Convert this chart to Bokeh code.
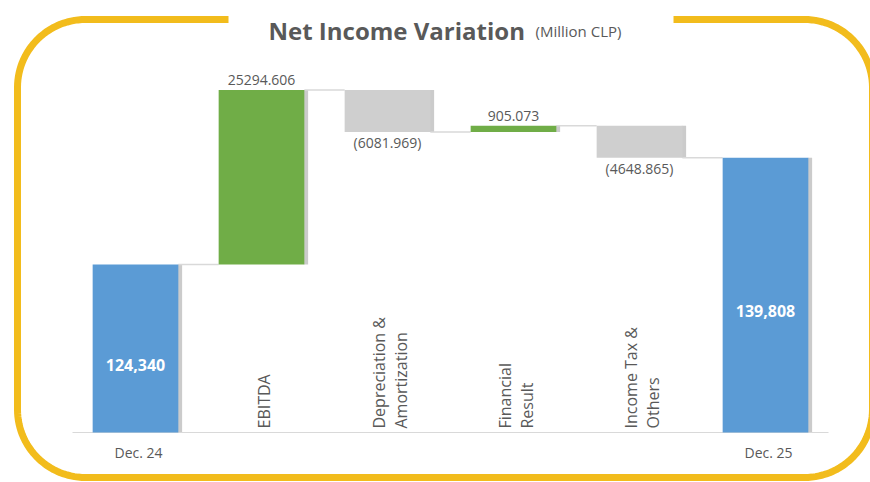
import numpy as np
from bokeh.plotting import figure
from bokeh.models import Range1d
from bokeh.core.properties import value
from bokeh.embed import file_html
from bokeh.resources import INLINE

# ---------------- data ----------------
categories = ["Dec. 24", "EBITDA", "Depreciation & Amortization",
              "Financial Result", "Income Tax & Others", "Dec. 25"]
category_lines = [["Dec. 24"], ["EBITDA"], ["Depreciation &", "Amortization"],
                  ["Financial", "Result"], ["Income Tax &", "Others"], ["Dec. 25"]]
start_total = 124340
changes = [25294.606, -6081.969, 905.073, -4648.865]
end_total = 139808
axis_base = 100000
title_main = "Net Income Variation"
title_unit = "(Million CLP)"

# ---------------- styles ----------------
BLUE = "#5B9BD5"
GREEN = "#70AD47"
GREY = "#CFCFCF"
TEXT = "#595959"
FRAME = "#F2BC1C"
FONT = value("Open Sans")
BAR_W = 0.68
W, H = 870, 482

# ---------------- derived ----------------
levels = start_total + np.cumsum(changes)
prev = np.concatenate([[start_total], levels[:-1]])
chg_x = np.arange(1, 1 + len(changes))
chg_bottom = np.minimum(prev, levels)
chg_top = np.maximum(prev, levels)
chg_color = [GREEN if c > 0 else GREY for c in changes]

tot_x = np.array([0, len(categories) - 1])
tot_vals = np.array([start_total, end_total])

p = figure(width=W, height=H, output_backend="svg", toolbar_location=None,
           x_axis_type=None, y_axis_type=None, min_border=0,
           x_range=Range1d(-135 / 126, (W - 135) / 126),
           y_range=Range1d(axis_base - 50 * 144.93, axis_base + 432 * 144.93))
p.outline_line_color = None
p.background_fill_color = "white"
p.border_fill_color = "white"
p.extra_x_ranges = {"px": Range1d(0, W)}
p.extra_y_ranges = {"px": Range1d(H, 0)}

# shadows
sh_x = np.concatenate([tot_x, chg_x])
sh_b = np.concatenate([np.full(2, axis_base), chg_bottom])
sh_t = np.concatenate([tot_vals, chg_top])
p.quad(left=sh_x + BAR_W / 2 - 0.004, right=sh_x + BAR_W / 2 + 0.03,
       bottom=sh_b, top=sh_t, fill_color="#8c8c8c", fill_alpha=0.45, line_color=None)

# axis line
p.segment(x0=[-0.5], x1=[len(categories) - 0.5], y0=[axis_base], y1=[axis_base],
          line_color="#D9D9D9", line_width=1.2)

# connectors
con_x = np.arange(0, len(categories) - 1)
con_y = np.concatenate([[start_total], levels])
p.segment(x0=con_x + BAR_W / 2, x1=con_x + 1 - BAR_W / 2, y0=con_y, y1=con_y,
          line_color="#D9D9D9", line_width=1.5)

# total bars
p.vbar(x=tot_x, bottom=axis_base, top=tot_vals, width=BAR_W, fill_color=BLUE, line_color=None)
# change bars
p.vbar(x=chg_x, bottom=chg_bottom, top=chg_top, width=BAR_W, fill_color=chg_color, line_color=None)

# change labels
pos = [c > 0 for c in changes]
lab_txt = [f"{abs(c):.3f}" if c > 0 else f"({abs(c):.3f})" for c in changes]
lab_y = [t if ps else b for t, b, ps in zip(chg_top, chg_bottom, pos)]
lab_off = [-10 if ps else 11 for ps in pos]
p.text(x=chg_x, y=lab_y, text=lab_txt, y_offset=lab_off, text_align="center",
       text_baseline="middle", text_font=FONT, text_font_size="14px", text_color=TEXT)

# total labels
p.text(x=tot_x, y=(axis_base + tot_vals) / 2, text=[f"{v:,.0f}" for v in tot_vals],
       y_offset=16, text_align="center", text_baseline="middle", text_font=FONT,
       text_font_size="16px", text_font_style="bold", text_color="white")

# category labels
hx, ht = [], []
vx, vt, voff = [], [], []
for i, lines in enumerate(category_lines):
    if i in tot_x:
        hx.append(i); ht.append(lines[0])
    else:
        n = len(lines)
        for j, ln in enumerate(lines):
            vx.append(i); vt.append(ln); voff.append(2 + (j - (n - 1) / 2) * 22)
p.text(x=hx, y=axis_base, text=ht, x_offset=3, y_offset=20, text_align="center",
       text_baseline="middle", text_font=FONT, text_font_size="14px", text_color=TEXT)
p.text(x=vx, y=axis_base, text=vt, x_offset=voff, y_offset=-4, angle=np.pi / 2,
       text_align="left", text_baseline="middle", text_font=FONT,
       text_font_size="16px", text_color=TEXT)

# rounded frame (decoration, pixel coordinates)
L, T, R, B, r = 17, 19, 872, 477, 68
def arc(cx, cy, a0, a1):
    a = np.radians(np.linspace(a0, a1, 30))
    return list(cx + r * np.cos(a)), list(cy + r * np.sin(a))
fx, fy = [228], [T]
for cx, cy, a0, a1 in [(L + r, T + r, -90, -180), (L + r, B - r, 180, 90),
                       (R - r, B - r, 90, 0), (R - r, T + r, 0, -90)]:
    ax_, ay_ = arc(cx, cy, a0, a1)
    fx += ax_; fy += ay_
fx.append(673); fy.append(T)
p.line(x=fx, y=fy, x_range_name="px", y_range_name="px", line_color=FRAME,
       line_width=7, line_join="round")

# title
p.text(x=[268], y=[30], text=[title_main], x_range_name="px", y_range_name="px",
       text_align="left", text_baseline="alphabetic", text_font=FONT,
       text_font_size="24px", text_font_style="bold", text_color=TEXT)
p.text(x=[535], y=[30], text=[title_unit], x_range_name="px", y_range_name="px",
       text_align="left", text_baseline="alphabetic", text_font=FONT,
       text_font_size="15px", text_color=TEXT)

open("out.html", "w").write(file_html(p, INLINE))
